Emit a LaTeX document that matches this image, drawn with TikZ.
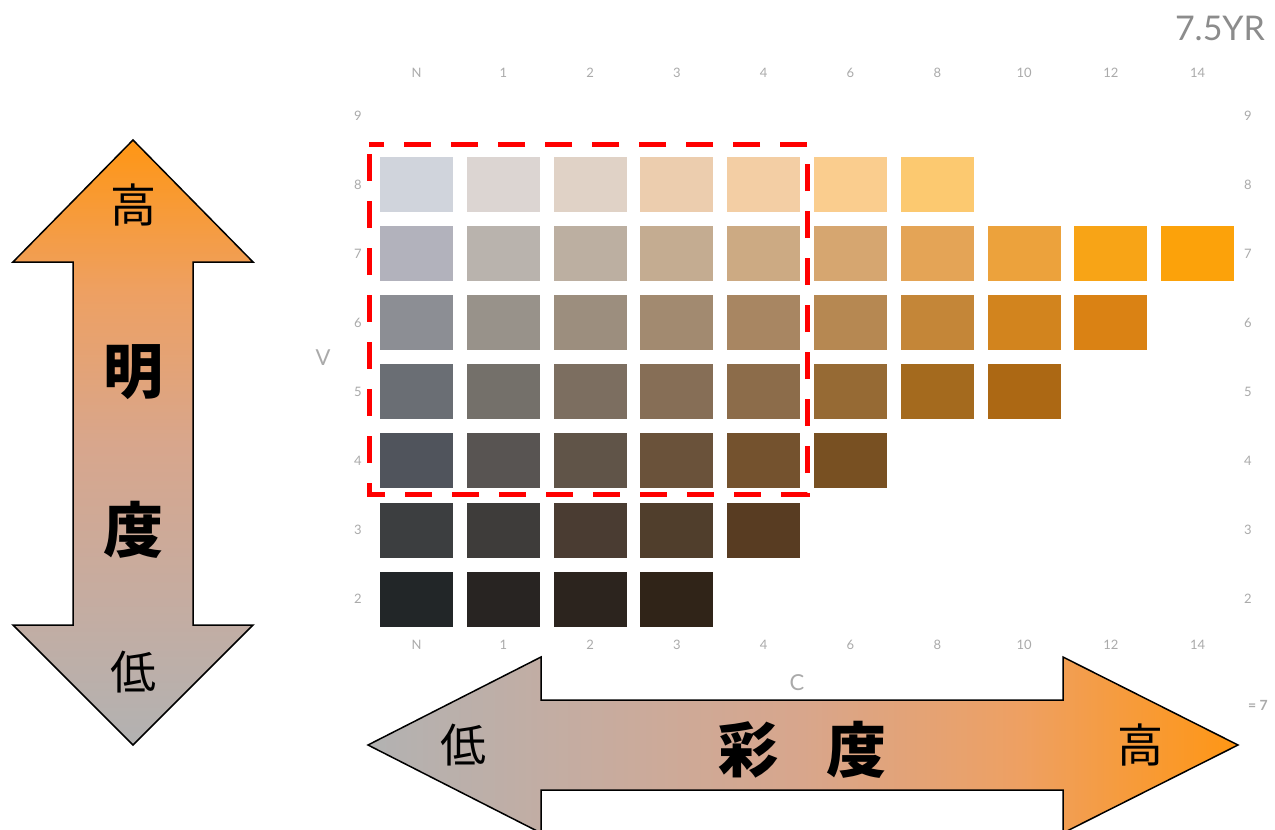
\documentclass[tikz,border=0pt]{standalone}
\usepackage{fontspec}
\newfontfamily\cjk{Noto Sans CJK JP}
\newfontfamily\lab{Lato}
\definecolor{arrOrange}{RGB}{255,150,20}
\definecolor{arrQa}{RGB}{198,172,160}
\definecolor{arrMid}{RGB}{216,166,140}
\definecolor{arrQb}{RGB}{238,160,98}
\definecolor{arrGray}{RGB}{178,178,178}
\definecolor{labGray}{RGB}{170,170,170}
\definecolor{ttlGray}{RGB}{140,140,140}
\pgfdeclarehorizontalshading{chromashade}{100bp}{color(0bp)=(arrGray); color(25bp)=(arrGray); color(37.5bp)=(arrQa); color(50bp)=(arrMid); color(62.5bp)=(arrQb); color(75bp)=(arrOrange); color(100bp)=(arrOrange)}
\pgfdeclareverticalshading{valueshade}{100bp}{color(0bp)=(arrGray); color(25bp)=(arrGray); color(37.5bp)=(arrQa); color(50bp)=(arrMid); color(62.5bp)=(arrQb); color(75bp)=(arrOrange); color(100bp)=(arrOrange)}
\newcommand\sw[5]{\fill[fill={rgb,255:red,#3;green,#4;blue,#5}] ({380+86.8*#1},{157+69.1*(8-#2)}) rectangle ++(73,55);}
\begin{document}
\begin{tikzpicture}[x=1pt,y=-1pt,
  arrowshape/.style={draw=black,line width=1.5pt,line join=miter},
  collab/.style={font=\lab\fontsize{13}{13}\selectfont,text=labGray,inner sep=0pt},
  smallcjk/.style={font=\cjk\fontsize{46}{46}\selectfont,inner sep=0pt},
  bigcjk/.style={font=\cjk\bfseries\fontsize{60}{60}\selectfont,inner sep=0pt}]
\useasboundingbox (0,0) rectangle (1275,830);
\fill[white] (0,0) rectangle (1275,830);

% ---- swatches: column index, V, R,G,B
% V = 8
\sw{0}{8}{208}{212}{220}
\sw{1}{8}{220}{213}{210}
\sw{2}{8}{224}{210}{198}
\sw{3}{8}{236}{205}{174}
\sw{4}{8}{243}{206}{164}
\sw{5}{8}{250}{205}{142}
\sw{6}{8}{252}{201}{112}
% V = 7
\sw{0}{7}{178}{178}{188}
\sw{1}{7}{185}{179}{173}
\sw{2}{7}{188}{175}{161}
\sw{3}{7}{196}{172}{145}
\sw{4}{7}{204}{170}{131}
\sw{5}{7}{214}{166}{112}
\sw{6}{7}{228}{164}{86}
\sw{7}{7}{236}{162}{60}
\sw{8}{7}{248}{164}{22}
\sw{9}{7}{252}{162}{10}
% V = 6
\sw{0}{6}{140}{142}{148}
\sw{1}{6}{152}{146}{138}
\sw{2}{6}{156}{142}{126}
\sw{3}{6}{162}{138}{112}
\sw{4}{6}{168}{134}{98}
\sw{5}{6}{182}{136}{82}
\sw{6}{6}{196}{134}{56}
\sw{7}{6}{210}{132}{30}
\sw{8}{6}{218}{130}{20}
% V = 5
\sw{0}{5}{106}{110}{116}
\sw{1}{5}{116}{112}{106}
\sw{2}{5}{124}{110}{96}
\sw{3}{5}{134}{110}{86}
\sw{4}{5}{140}{108}{74}
\sw{5}{5}{150}{106}{52}
\sw{6}{5}{164}{106}{30}
\sw{7}{5}{172}{104}{20}
% V = 4
\sw{0}{4}{80}{84}{92}
\sw{1}{4}{88}{84}{82}
\sw{2}{4}{96}{84}{72}
\sw{3}{4}{106}{82}{58}
\sw{4}{4}{116}{82}{46}
\sw{5}{4}{120}{80}{34}
% V = 3
\sw{0}{3}{60}{62}{64}
\sw{1}{3}{62}{60}{58}
\sw{2}{3}{74}{60}{50}
\sw{3}{3}{80}{62}{44}
\sw{4}{3}{88}{60}{34}
% V = 2
\sw{0}{2}{34}{38}{40}
\sw{1}{2}{40}{36}{34}
\sw{2}{2}{44}{36}{30}
\sw{3}{2}{48}{36}{24}

% ---- chart labels
\foreach \c [count=\i from 0] in {N,1,2,3,4,6,8,10,12,14} {
  \node[collab] (top\i) at ({416.5+86.8*\i},73) {\c};
  \node[collab] (bot\i) at ({416.5+86.8*\i},645) {\c};
}
\foreach \v in {9,8,7,6,5,4,3,2} {
  \node[collab] (left\v) at (358,{184.5+69.1*(8-\v)}) {\v};
  \node[collab] (right\v) at (1248,{184.5+69.1*(8-\v)}) {\v};
}
\node[collab,font=\lab\fontsize{22}{22}\selectfont] (Vlab) at (323,358) {V};
\node[collab,font=\lab\fontsize{22}{22}\selectfont] (Clab) at (797,683) {C};
\node[font=\lab\fontsize{34}{34}\selectfont,text=ttlGray,inner sep=0pt] (hue) at (1220,28) {7.5YR};
\node[collab,font=\lab\bfseries\fontsize{14}{14}\selectfont,anchor=west] (pg) at (1248,705) {= 7};

% ---- dashed selection
\draw[red,line width=5pt,dash pattern=on 27pt off 20pt,dash phase=-10pt] (369,144) rectangle (807,494);

% ---- vertical arrow (value)
\path[arrowshape,shading=valueshade]
  (133,140) -- (253,262) -- (193,262) -- (193,625) -- (253,625) -- (133,745)
  -- (13,625) -- (73,625) -- (73,262) -- (13,262) -- cycle;
\node[smallcjk] (vhigh) at (133,205) {高};
\node[bigcjk] (vm) at (133,372) {明};
\node[bigcjk] (vd) at (133,530) {度};
\node[smallcjk] (vlow) at (133,672) {低};

% ---- horizontal arrow (chroma)
\path[arrowshape,shading=chromashade]
  (368,745) -- (541,657) -- (541,700) -- (1063,700) -- (1063,657) -- (1238,745)
  -- (1063,833) -- (1063,790) -- (541,790) -- (541,833) -- cycle;
\node[smallcjk] (hlow) at (463,745) {低};
\node[bigcjk] (hs) at (748,750) {彩};
\node[bigcjk] (hd) at (856,750) {度};
\node[smallcjk] (hhigh) at (1140,745) {高};
\end{tikzpicture}
\end{document}
